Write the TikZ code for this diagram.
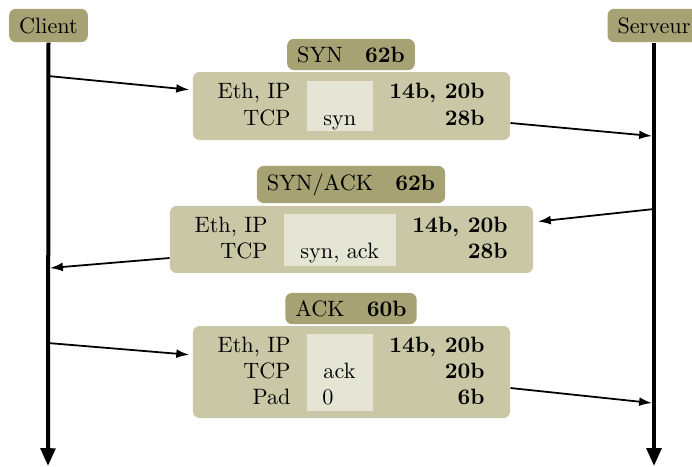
\documentclass[tikz,border=0pt]{standalone}
\usepackage{tikz}
\usetikzlibrary{arrows.meta, calc}
\definecolor{hdcol}{RGB}{166,162,116}
\definecolor{boxcol}{RGB}{201,199,165}
\definecolor{fldcol}{RGB}{229,229,213}
\tikzset{
  peer/.style={fill=hdcol, rounded corners=3pt, minimum height=15pt, inner xsep=4.5pt},
  pkthead/.style={fill=hdcol, rounded corners=3pt, minimum height=14pt, inner xsep=4.5pt},
  pktbox/.style={fill=boxcol, rounded corners=3pt, minimum width=142.7pt},
  fieldbg/.style={fill=fldcol, minimum width=29.7pt},
  lbl/.style={anchor=base east, inner sep=0pt},
  val/.style={anchor=base west, inner sep=0pt},
  bytes/.style={anchor=base east, inner sep=0pt, font=\bfseries},
  lifeline/.style={-{Triangle[length=8pt, width=6.5pt]}, line width=1.8pt},
  wire/.style={-{Latex[length=5.8pt, width=4pt]}, line width=0.8pt}
}

\begin{document}
\begin{tikzpicture}[x=0.45pt, y=-0.45pt]
  \useasboundingbox (0,0) rectangle (692,466);
  % peers
  \node[peer] (client)  at (48.5, 25.5) {Client};
  \node[peer] (serveur) at (654, 25.5) {Serveur};
  \coordinate (cend) at (48, 466);
  \coordinate (send) at (654, 466);
  \draw[lifeline] (client.south) -- (cend);
  \draw[lifeline] (serveur.south) -- (send);
  % SYN
  \node[pkthead] (synhd) at (351, 54.5) {SYN\quad\textbf{62b}};
  \node[pktbox, minimum height=30.6pt] (syn) at (351.5, 106) {};
  \node[fieldbg, minimum height=22.5pt] (synfld) at (340, 106) {};
  \node[lbl] (syneth) at (291, 98)  {Eth, IP};
  \node[lbl] (syntcp) at (291, 125) {TCP};
  \node[val] (synflag) at (323, 125) {syn};
  \node[bytes] (synsz1) at (485, 98)  {14b, 20b};
  \node[bytes] (synsz2) at (485, 125) {28b};
  % SYN/ACK
  \node[pkthead] (sahd) at (351, 184.5) {SYN/ACK\quad\textbf{62b}};
  \node[pktbox, minimum width=163.4pt, minimum height=30.2pt] (synack) at (351.5, 239.5) {};
  \node[fieldbg, minimum width=50.4pt, minimum height=23.4pt] (safld) at (340, 240) {};
  \node[lbl] (saeth) at (268, 232) {Eth, IP};
  \node[lbl] (satcp) at (268, 258) {TCP};
  \node[val] (saflag) at (300, 258) {syn, ack};
  \node[bytes] (sasz1) at (508, 232) {14b, 20b};
  \node[bytes] (sasz2) at (508, 258) {28b};
  % ACK
  \node[pkthead] (ackhd) at (351, 308.5) {ACK\quad\textbf{60b}};
  \node[pktbox, minimum height=41.4pt] (ack) at (351.5, 372) {};
  \node[fieldbg, minimum height=34.7pt] (ackfld) at (340, 372.5) {};
  \node[lbl] (acketh) at (291, 352) {Eth, IP};
  \node[lbl] (acktcp) at (291, 378) {TCP};
  \node[lbl] (ackpad) at (291, 404) {Pad};
  \node[val] (ackflag) at (323, 378) {ack};
  \node[val] (ackzero) at (322, 404) {0};
  \node[bytes] (acksz1) at (485, 352) {14b, 20b};
  \node[bytes] (acksz2) at (485, 378) {20b};
  \node[bytes] (acksz3) at (485, 404) {6b};
  % lifeline points
  \coordinate (c1) at (48, 76);
  \coordinate (s1) at (652, 136);
  \coordinate (s2) at (654, 209);
  \coordinate (c2) at (50, 268);
  \coordinate (c3) at (48, 343);
  \coordinate (s3) at (652, 403);
  % messages
  \draw[wire, shorten >=1.5pt] (c1) -- ($(syn.west)+(0,-16)$);
  \draw[wire] ($(syn.east)+(0,17)$) -- (s1);
  \draw[wire, shorten >=2pt] (s2) -- ($(synack.east)+(0,-17.5)$);
  \draw[wire] ($(synack.west)+(0,18.5)$) -- (c2);
  \draw[wire, shorten >=1.5pt] (c3) -- ($(ack.west)+(0,-17)$);
  \draw[wire] ($(ack.east)+(0,16)$) -- (s3);
\end{tikzpicture}
\end{document}
